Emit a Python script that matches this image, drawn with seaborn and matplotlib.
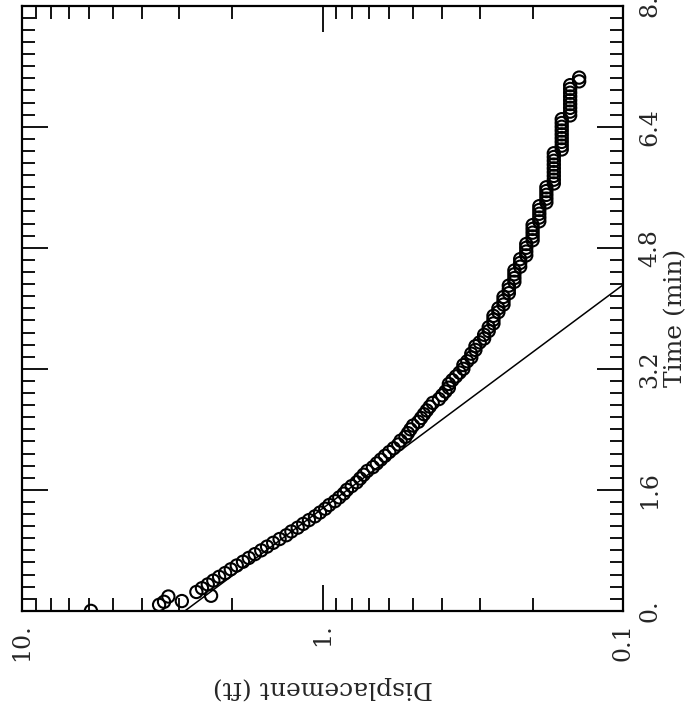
import matplotlib
matplotlib.use("Agg")
import matplotlib.pyplot as plt
import matplotlib.ticker as mticker
import seaborn as sns
import pandas as pd

# displacement (ft) recorded against elapsed time (min)
time_min = [0.00, 0.08, 0.12, 0.13, 0.19, 0.20,
            0.25, 0.30, 0.35, 0.40, 0.45, 0.50, 0.55, 0.60, 0.65, 0.70,
            0.75, 0.80, 0.85, 0.90, 0.95, 1.00, 1.05, 1.10, 1.15, 1.20,
            1.25, 1.30, 1.35, 1.40, 1.45, 1.50, 1.55, 1.60, 1.65, 1.70,
            1.75, 1.80, 1.85, 1.90, 1.95, 2.00, 2.05, 2.10, 2.15, 2.20,
            2.25, 2.30, 2.35, 2.40, 2.45, 2.50, 2.55, 2.60, 2.65, 2.70,
            2.75, 2.80, 2.85, 2.90, 2.95, 3.00, 3.05, 3.10, 3.15, 3.20,
            3.25, 3.30, 3.35, 3.40, 3.45, 3.50, 3.55, 3.60, 3.65, 3.70,
            3.75, 3.80, 3.85, 3.90, 3.95, 4.00, 4.05, 4.10, 4.15, 4.20,
            4.25, 4.30, 4.35, 4.40, 4.45, 4.50, 4.55, 4.60, 4.65, 4.70,
            4.75, 4.80, 4.85, 4.90, 4.95, 5.00, 5.05, 5.10, 5.15, 5.20,
            5.25, 5.30, 5.35, 5.40, 5.45, 5.50, 5.55, 5.60, 5.65, 5.70,
            5.75, 5.80, 5.85, 5.90, 5.95, 6.00, 6.05, 6.10, 6.15, 6.20,
            6.25, 6.30, 6.35, 6.40, 6.45, 6.50, 6.55, 6.60, 6.65, 6.70,
            6.75, 6.80, 6.85, 6.90, 6.95, 7.00, 7.05]
disp_ft = [5.90, 3.50, 3.37, 2.94, 3.26, 2.35,
           2.63, 2.52, 2.41, 2.31, 2.21, 2.11, 2.02, 1.93, 1.84, 1.76,
           1.68, 1.60, 1.53, 1.46, 1.39, 1.32, 1.27, 1.21, 1.16, 1.11,
           1.06, 1.02, 0.98, 0.95, 0.91, 0.88, 0.85, 0.83, 0.80, 0.77,
           0.75, 0.73, 0.71, 0.68, 0.66, 0.64, 0.62, 0.60, 0.58, 0.56,
           0.55, 0.53, 0.52, 0.51, 0.50, 0.48, 0.47, 0.46, 0.45, 0.44,
           0.43, 0.41, 0.40, 0.39, 0.38, 0.38, 0.37, 0.36, 0.35, 0.34,
           0.34, 0.33, 0.32, 0.32, 0.31, 0.31, 0.30, 0.29, 0.29, 0.28,
           0.28, 0.27, 0.27, 0.27, 0.26, 0.26, 0.25, 0.25, 0.25, 0.24,
           0.24, 0.24, 0.23, 0.23, 0.23, 0.23, 0.22, 0.22, 0.22, 0.21,
           0.21, 0.21, 0.21, 0.20, 0.20, 0.20, 0.20, 0.20, 0.19, 0.19,
           0.19, 0.19, 0.19, 0.18, 0.18, 0.18, 0.18, 0.18, 0.17, 0.17,
           0.17, 0.17, 0.17, 0.17, 0.17, 0.17, 0.17, 0.16, 0.16, 0.16,
           0.16, 0.16, 0.16, 0.16, 0.16, 0.16, 0.15, 0.15, 0.15, 0.15,
           0.15, 0.15, 0.15, 0.15, 0.15, 0.14, 0.14]

# straight-line fit (semi-log)
fit_time = [0.0, 4.31]
fit_disp = [2.87, 0.10]

time_ticks = [0, 1.6, 3.2, 4.8, 6.4, 8]
time_labels = ['0.', '1.6', '3.2', '4.8', '6.4', '8.']
disp_ticks = [10, 1, 0.1]
disp_labels = ['10.', '1.', '0.1']

sns.set_style('white')
plt.rcParams['font.family'] = ['DejaVu Serif']

df = pd.DataFrame({'time': time_min, 'disp': disp_ft})

fig = plt.figure(figsize=(6.9, 7.17), dpi=100)
ax = fig.add_axes([0.032, 0.148, 0.871, 0.844])
ax.set_xscale('log')

sns.lineplot(x=fit_disp, y=fit_time, color='black', lw=1.1, sort=False, ax=ax)
sns.scatterplot(data=df, x='disp', y='time', marker='o', s=78,
                facecolors='none', edgecolor='black', linewidth=1.5, ax=ax)

# the chart is printed turned on its side: displacement runs right-to-left
ax.set_xlim(10, 0.1)
ax.set_ylim(0, 8)

ax.set_xticks(disp_ticks, labels=disp_labels)
ax.xaxis.set_minor_locator(mticker.LogLocator(base=10, subs=range(2, 10), numticks=20))
ax.xaxis.set_minor_formatter(mticker.NullFormatter())
ax.set_yticks(time_ticks, labels=time_labels)
ax.yaxis.set_minor_locator(mticker.MultipleLocator(0.16))

ax.tick_params(which='both', direction='in', top=True, bottom=True, left=True, right=True,
               labelleft=False, labelright=True, width=1.3, color='black')
ax.tick_params(which='major', length=19)
ax.tick_params(which='minor', length=9.5)
ax.tick_params(axis='x', labelrotation=90, pad=9, labelsize=17)
ax.tick_params(axis='y', labelrotation=90, pad=11, labelsize=17)
for lab in ax.get_yticklabels():
    lab.set_va('center')

for sp in ax.spines.values():
    sp.set_color('black')
    sp.set_linewidth(1.6)

ax.set_xlabel('Displacement (ft)', rotation=180, fontsize=18, labelpad=11)
ax.yaxis.set_label_position('right')
ax.set_ylabel('Time (min)', fontsize=18, labelpad=2, y=0.484)

fig.savefig('out.png', dpi=100)
